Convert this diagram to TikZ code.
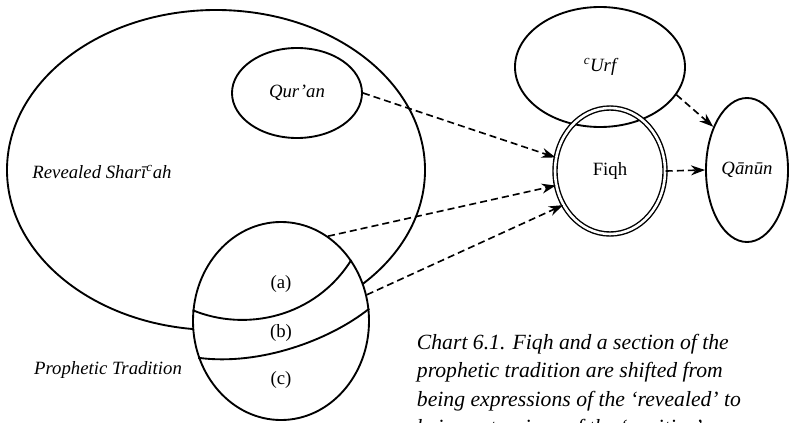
\documentclass[tikz,border=0pt]{standalone}
\usepackage{fontspec}
\setmainfont{Liberation Serif}
\usetikzlibrary{arrows.meta,shapes.geometric}
\begin{document}
\begin{tikzpicture}[
  x=0.03cm, y=-0.03cm,
  >={Stealth[length=12pt,width=8.5pt]},
  line width=1.6pt,
  bubble/.style={ellipse, draw, line width=1.6pt, inner sep=0pt},
  tag/.style={font=\fontsize{16}{18}\selectfont\itshape},
  part/.style={font=\fontsize{16}{18}\selectfont},
  link/.style={->, line width=1.4pt, dash pattern=on 6pt off 3.5pt}
]
  \useasboundingbox (0,0) rectangle (790,422);
  % the big circle and what sits in it
  \node[bubble, minimum width=12.54cm, minimum height=9.6cm] (shariah) at (216,170) {};
  \node[tag] (shariahtxt) at (102,172) {Revealed Sharī\textsuperscript{c}ah};
  \node[bubble, tag, minimum width=3.9cm, minimum height=2.7cm] (quran) at (297,93) {Qur’an};
  \node[bubble, fill=white, minimum width=5.28cm, minimum height=5.94cm] (prophetic) at (281,321) {};
  \draw (prophetic.173) .. controls (245,332) and (315,318) .. (prophetic.41);
  \draw (prophetic.204) .. controls (260,366) and (330,340) .. (prophetic.8);
  \node[part] (pa) at (281,284) {(a)};
  \node[part] (pb) at (281,333) {(b)};
  \node[part] (pc) at (281,380) {(c)};
  \node[tag] (prophetictxt) at (108,370) {Prophetic Tradition};
  % right hand side
  \node[bubble, tag, minimum width=5.1cm, minimum height=3.6cm] (urf) at (600,67) {\textsuperscript{c}Urf};
  \node[bubble, part, double, line width=1.2pt, double distance=2.2pt, minimum width=3.3cm, minimum height=3.78cm] (fiqh) at (610,171) {Fiqh};
  \node[bubble, tag, minimum width=2.46cm, minimum height=4.32cm] (qanun) at (747,170) {Qānūn};
  % arrows
  \draw[link] (quran.east) -- (fiqh.166);
  \draw[link] (prophetic.61) -- (fiqh.195);
  \draw[link] (prophetic.17) -- (fiqh.216);
  \draw[link] (fiqh.east) -- (qanun.west);
  \draw[link] (urf.340) -- (qanun.128);
  % caption
  \node[anchor=north west, align=left, inner sep=0pt, font=\fontsize{18.5}{24.4}\selectfont\itshape] (caption) at (416,333)
    {Chart 6.1. Fiqh and a section of the\\
     prophetic tradition are shifted from\\
     being expressions of the ‘revealed’ to\\
     being extensions of the ‘positive’};
\end{tikzpicture}
\end{document}
